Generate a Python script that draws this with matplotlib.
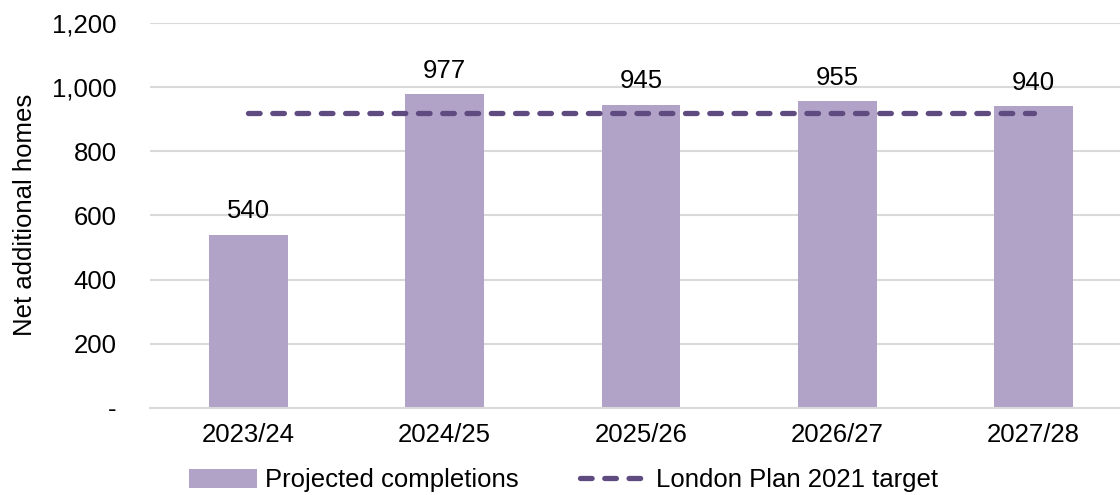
import matplotlib
matplotlib.use("Agg")
import matplotlib.pyplot as plt
from matplotlib.ticker import FuncFormatter

# Chart data
years = ["2023/24", "2024/25", "2025/26", "2026/27", "2027/28"]
completions = [540, 977, 945, 955, 940]
target = 918

bar_color = "#b1a3c8"
line_color = "#5f4b80"
fs = 18.5

plt.rcParams["font.family"] = ["Liberation Sans", "DejaVu Sans"]

fig = plt.figure(figsize=(11.2, 4.95), dpi=100)
ax = fig.add_axes([0.134, 0.176, 0.866, 0.778])

x = list(range(len(years)))
bars = ax.bar(x, completions, width=0.4, color=bar_color, zorder=2,
              label="Projected completions")
line, = ax.plot(x, [target] * len(years), color=line_color, linewidth=3.8,
                dashes=(2.2, 2.4), dash_capstyle="round", zorder=3,
                label="London Plan 2021 target")

for xi, v in zip(x, completions):
    ax.annotate(f"{v:,}", (xi, v), xytext=(0, 8), textcoords="offset points",
                ha="center", va="bottom", fontsize=fs)

ax.set_xlim(-0.5, 4.44)
ax.set_ylim(0, 1200)
ax.set_yticks(range(0, 1201, 200))
ax.yaxis.set_major_formatter(FuncFormatter(lambda v, p: "-" if v == 0 else f"{int(v):,}"))
ax.set_xticks(x)
ax.set_xticklabels(years)
ax.tick_params(axis="y", length=0, pad=24, labelsize=fs)
ax.tick_params(axis="x", length=0, pad=11, labelsize=fs)
ax.grid(axis="y", color="#d9d9d9", linewidth=1.5, zorder=0)
for s in ["top", "right", "left"]:
    ax.spines[s].set_visible(False)
ax.spines["bottom"].set_color("#d9d9d9")
ax.spines["bottom"].set_linewidth(1.5)
ax.set_ylabel("Net additional homes", fontsize=fs)
ax.yaxis.set_label_coords(-0.117, 0.5)

fig.legend([bars, line], ["Projected completions", "London Plan 2021 target"],
           loc="center", bbox_to_anchor=(0.503, 0.03), ncol=2, frameon=False,
           fontsize=fs, handlelength=2.65, handleheight=0.75, columnspacing=2.4,
           handletextpad=0.3)

fig.savefig("out.png", dpi=100)
